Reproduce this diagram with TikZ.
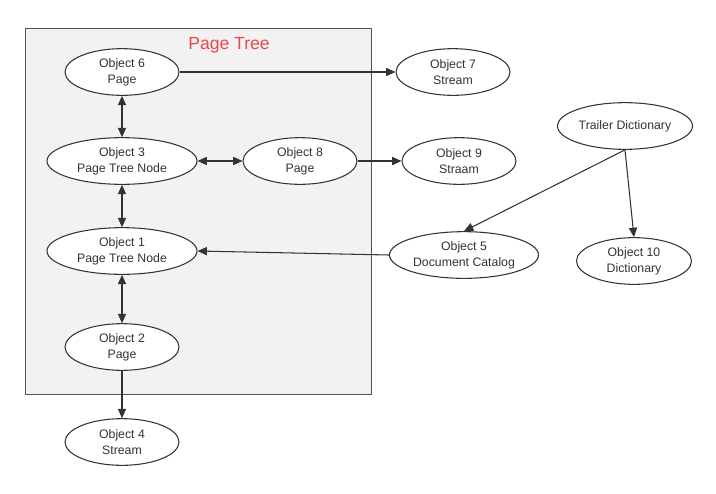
\documentclass[tikz,border=0pt]{standalone}
\usepackage{fontspec}
\setmainfont{Liberation Sans}
\usetikzlibrary{shapes.geometric,arrows.meta}
\definecolor{edgegray}{HTML}{333333}
\definecolor{boxgray}{HTML}{F2F2F2}
\definecolor{titlered}{HTML}{E8474A}
\tikzset{
    obj/.style  = {ellipse, draw=edgegray, line width=0.9pt, fill=white, inner sep=0pt,
                   minimum width=3.42cm, minimum height=1.4cm, align=center,
                   font=\fontsize{10.5}{13.6}\selectfont, text=edgegray},
    wideobj/.style = {obj, minimum width=4.5cm},
    link/.style = {-{Triangle[length=8pt,width=7pt]}, line width=0.9pt, draw=edgegray},
    both/.style = {{Triangle[length=8pt,width=7pt]}-{Triangle[length=8pt,width=7pt]}, line width=0.9pt, draw=edgegray}
}

\begin{document}
\begin{tikzpicture}[x=0.03cm, y=-0.03cm]
    \useasboundingbox (0,0) rectangle (716,493);

    % --- Page tree frame ---
    \node[draw=edgegray!85, fill=boxgray, line width=0.8pt, minimum width=10.38cm, minimum height=10.98cm, inner sep=0pt] (tree_box) at (198,211) {};
    \node[font=\fontsize{15}{17}\selectfont, text=titlered] (tree_title) at (229,45) {Page Tree};

    % --- Objects inside the tree ---
    \node[obj] (obj6) at (122,72) {Object 6\\Page};
    \node[wideobj] (obj3) at (122,161) {Object 3\\Page Tree Node};
    \node[obj] (obj8) at (300,161) {Object 8\\Page};
    \node[wideobj] (obj1) at (122,251) {Object 1\\Page Tree Node};
    \node[obj] (obj2) at (122,347) {Object 2\\Page};

    % --- Objects outside ---
    \node[obj] (obj4) at (122,442) {Object 4\\Stream};
    \node[obj] (obj7) at (453,72) {Object 7\\Stream};
    \node[obj] (obj9) at (459,161) {Object 9\\Straam};
    \node[obj, minimum width=4.05cm] (trailer) at (625,126) {Trailer Dictionary};
    \node[obj, minimum width=4.47cm] (obj5) at (464,255) {Object 5\\Document Catalog};
    \node[obj, minimum width=3.45cm] (obj10) at (634,261) {Object 10\\Dictionary};

    % --- Tree links ---
    \draw[both] (obj6) -- (obj3);
    \draw[both] (obj3) -- (obj8);
    \draw[both] (obj3) -- (obj1);
    \draw[both] (obj1) -- (obj2);
    \draw[link] (obj2) -- (obj4);

    % --- Other references ---
    \draw[link] (obj6) -- (obj7);
    \draw[link] (obj8) -- (obj9);
    \draw[link] (trailer.south) -- (obj5.north);
    \draw[link] (trailer.south) -- (obj10.north);
    \draw[link] (obj5.west) -- (obj1.east);
\end{tikzpicture}
\end{document}
